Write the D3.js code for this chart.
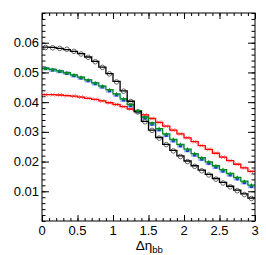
<html>
<head>
<script src="https://d3js.org/d3.v7.min.js"></script>
</head>
<style>
  body { margin: 0; background: #fff; }
  text { font-family: "Liberation Sans", Arial, sans-serif; }
</style>
<body>
<svg id="plot" width="266" height="255"></svg>
<script>
// 30 bins of 0.1 in delta eta_bb
const binEdges = d3.range(0, 3.0001, 0.1);

const blackVals = [0.0585, 0.0584, 0.0581, 0.0577, 0.0571, 0.0563, 0.0552, 0.0537, 0.0518, 0.0496,
                   0.0470, 0.0438, 0.0403, 0.0368, 0.0335, 0.0306, 0.0281, 0.0258, 0.0238, 0.0219,
                   0.0202, 0.0186, 0.0171, 0.0157, 0.0143, 0.0130, 0.0117, 0.0104, 0.0091, 0.0077];
const greenVals = [0.0514, 0.0510, 0.0505, 0.0499, 0.0492, 0.0484, 0.0475, 0.0465, 0.0454, 0.0442,
                   0.0428, 0.0411, 0.0392, 0.0371, 0.0350, 0.0330, 0.0311, 0.0293, 0.0275, 0.0258,
                   0.0242, 0.0227, 0.0213, 0.0199, 0.0186, 0.0173, 0.0160, 0.0147, 0.0134, 0.0121];
const redVals   = [0.0425, 0.0425, 0.0424, 0.0422, 0.0420, 0.0417, 0.0413, 0.0409, 0.0404, 0.0398,
                   0.0392, 0.0385, 0.0377, 0.0368, 0.0357, 0.0345, 0.0332, 0.0319, 0.0306, 0.0293,
                   0.0280, 0.0267, 0.0254, 0.0241, 0.0228, 0.0215, 0.0203, 0.0191, 0.0179, 0.0167];
const circleVals = [0.0584, 0.0583, 0.0581, 0.0578, 0.0571, 0.0562, 0.0551, 0.0536, 0.0517, 0.0495,
                    0.0468, 0.0437, 0.0402, 0.0367, 0.0334, 0.0305, 0.0279, 0.0257, 0.0236, 0.0217,
                    0.0200, 0.0184, 0.0169, 0.0155, 0.0141, 0.0128, 0.0115, 0.0102, 0.0089, 0.0076];
const blueVals  = [0.0513, 0.0508, 0.0503, 0.0497, 0.0489, 0.0481, 0.0472, 0.0462, 0.0451, 0.0438,
                   0.0424, 0.0407, 0.0388, 0.0367, 0.0346, 0.0326, 0.0307, 0.0288, 0.0270, 0.0253,
                   0.0237, 0.0222, 0.0208, 0.0194, 0.0181, 0.0168, 0.0155, 0.0142, 0.0129, 0.0116];

const xTicks = [0, 0.5, 1, 1.5, 2, 2.5, 3];
const yTicks = [0.01, 0.02, 0.03, 0.04, 0.05, 0.06];

let plt = d3.select('svg#plot');
let margins = { "top": 13, "right": 11, "bottom": 34, "left": 42 };
let x1 = 266 - margins.right;
let y1 = 255 - margins.bottom;

let x = d3.scaleLinear().domain([0, 3]).range([margins.left, x1]);
let y = d3.scaleLinear().domain([0, 0.07]).range([y1, margins.top]);

// frame + ticks on all sides, ticks pointing inward
let minorX = d3.range(0, 3.0001, 0.1);
let minorY = d3.range(0, 0.0701, 0.002);

plt.append('g').attr('transform', `translate(0,${y1})`)
    .call(d3.axisTop(x).tickValues(minorX).tickSize(3).tickFormat(''))
    .call(g => g.select('.domain').remove());
plt.append('g').attr('transform', `translate(0,${y1})`)
    .call(d3.axisTop(x).tickValues(xTicks).tickSize(6).tickFormat(''))
    .call(g => g.select('.domain').remove());
plt.append('g').attr('transform', `translate(0,${margins.top})`)
    .call(d3.axisBottom(x).tickValues(minorX).tickSize(3).tickFormat(''))
    .call(g => g.select('.domain').remove());
plt.append('g').attr('transform', `translate(0,${margins.top})`)
    .call(d3.axisBottom(x).tickValues(xTicks).tickSize(6).tickFormat(''))
    .call(g => g.select('.domain').remove());
plt.append('g').attr('transform', `translate(${margins.left},0)`)
    .call(d3.axisRight(y).tickValues(minorY).tickSize(3.5).tickFormat(''))
    .call(g => g.select('.domain').remove());
plt.append('g').attr('transform', `translate(${margins.left},0)`)
    .call(d3.axisRight(y).tickValues(yTicks).tickSize(7).tickFormat(''))
    .call(g => g.select('.domain').remove());
plt.append('g').attr('transform', `translate(${x1},0)`)
    .call(d3.axisLeft(y).tickValues(minorY).tickSize(3.5).tickFormat(''))
    .call(g => g.select('.domain').remove());
plt.append('g').attr('transform', `translate(${x1},0)`)
    .call(d3.axisLeft(y).tickValues(yTicks).tickSize(7).tickFormat(''))
    .call(g => g.select('.domain').remove());

plt.selectAll('.tick line').attr('stroke', '#000').attr('stroke-width', 1);

// tick labels
plt.append('g').selectAll('text.xl')
    .data(xTicks).join('text')
    .attr('x', d => x(d)).attr('y', y1 + 13.5)
    .attr('text-anchor', 'middle').attr('font-size', 13)
    .text(d => d);
plt.append('g').selectAll('text.yl')
    .data(yTicks).join('text')
    .attr('x', margins.left - 3).attr('y', d => y(d) + 4.5)
    .attr('text-anchor', 'end').attr('font-size', 13)
    .text(d => d3.format('.2f')(d));

let title = plt.append('text').attr('x', x(1.32)).attr('y', 250).attr('font-size', 13.5);
title.append('tspan').text('Δη');
title.append('tspan').attr('font-size', 9.5).attr('dy', 3).text('bb');

let chart = plt.append('g');

function stepPath(vals) {
    let pts = vals.map((v, i) => [binEdges[i], v]);
    pts.push([binEdges[vals.length], vals[vals.length - 1]]);
    return d3.line().x(d => x(d[0])).y(d => y(d[1])).curve(d3.curveStepAfter)(pts);
}
let centers = binEdges.slice(0, 30).map(e => e + 0.05);

// red markers (light crosses with bin-width bars)
chart.selectAll('line.rbar').data(redVals).join('line')
    .attr('x1', (d, i) => x(binEdges[i])).attr('x2', (d, i) => x(binEdges[i + 1]))
    .attr('y1', d => y(d)).attr('y2', d => y(d))
    .attr('stroke', '#ff9090').attr('stroke-width', 1);
chart.selectAll('path.rx').data(redVals).join('path')
    .attr('d', (d, i) => { let cx = x(centers[i]), cy = y(d);
        return `M${cx-2},${cy-2}L${cx+2},${cy+2}M${cx-2},${cy+2}L${cx+2},${cy-2}`; })
    .attr('stroke', '#ff8080').attr('stroke-width', 1).attr('fill', 'none');

// blue error boxes and squares
chart.selectAll('rect.bbox').data(blueVals).join('rect')
    .attr('x', (d, i) => x(binEdges[i])).attr('width', x(0.1) - x(0))
    .attr('y', d => y(d + 0.0006)).attr('height', d => y(d - 0.0006) - y(d + 0.0006))
    .attr('fill', '#9fb6ff');
chart.selectAll('rect.bsq').data(blueVals).join('rect')
    .attr('x', (d, i) => x(centers[i]) - 1.5).attr('y', d => y(d) - 1.5)
    .attr('width', 3).attr('height', 3).attr('fill', '#2030e0');

// gray open circles
chart.selectAll('circle.gc').data(circleVals).join('circle')
    .attr('cx', (d, i) => x(centers[i])).attr('cy', d => y(d)).attr('r', 2.3)
    .attr('fill', 'none').attr('stroke', '#666').attr('stroke-width', 1);

// histograms
chart.append('path').attr('d', stepPath(redVals))
    .attr('fill', 'none').attr('stroke', '#ff0000').attr('stroke-width', 1.3);
chart.append('path').attr('d', stepPath(greenVals))
    .attr('fill', 'none').attr('stroke', '#008a20').attr('stroke-width', 1.3);
chart.append('path').attr('d', stepPath(blackVals))
    .attr('fill', 'none').attr('stroke', '#000').attr('stroke-width', 1.3);

// green triangles
chart.selectAll('path.gt').data(greenVals).join('path')
    .attr('d', (d, i) => { let cx = x(centers[i]), cy = y(d);
        return `M${cx-2},${cy+1.7}L${cx+2},${cy+1.7}L${cx},${cy-2}Z`; })
    .attr('fill', '#008a20');

// frame
plt.append('rect').attr('x', margins.left).attr('y', margins.top)
    .attr('width', x1 - margins.left).attr('height', y1 - margins.top)
    .attr('fill', 'none').attr('stroke', '#000').attr('stroke-width', 1);
</script>
</body>
</html>
